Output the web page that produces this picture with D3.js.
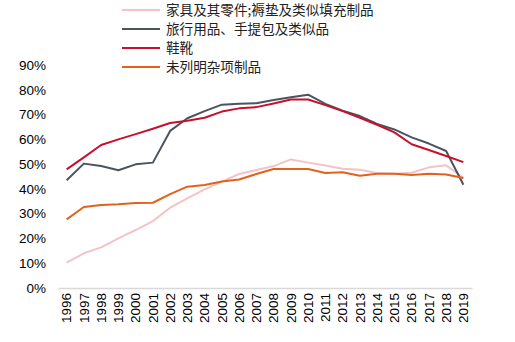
<!DOCTYPE html>
<html><head><meta charset="utf-8">
<script src="https://cdn.jsdelivr.net/npm/d3@7"></script>
<style>body{margin:0;background:#fff}svg{display:block}</style>
</head><body><svg id="c" width="515" height="342"></svg>
<script>
const years = ["1996","1997","1998","1999","2000","2001","2002","2003","2004","2005","2006","2007","2008","2009","2010","2011","2012","2013","2014","2015","2016","2017","2018","2019"];
const seriesNames = ["家具及其零件;褥垫及类似填充制品","旅行用品、手提包及类似品","鞋靴","未列明杂项制品"];
const furniture = [10.2,14.0,16.4,20.0,23.4,27.0,32.4,36.2,39.8,42.9,46.0,47.6,49.2,51.9,50.6,49.4,48.1,47.7,46.4,46.1,46.5,48.7,49.5,44.5];
const travel = [43.5,50.2,49.2,47.5,49.9,50.6,63.4,68.5,71.4,74.0,74.4,74.6,75.9,77.0,78.0,74.3,71.6,69.4,66.2,64.0,60.8,58.3,55.3,41.7];
const shoes = [47.9,52.7,57.7,60.0,62.1,64.3,66.6,67.5,68.7,71.2,72.5,73.0,74.5,76.1,76.1,73.8,71.4,68.7,65.9,62.8,58.0,55.7,53.3,50.8];
const misc = [27.7,32.7,33.5,33.8,34.3,34.4,37.9,40.9,41.6,43.0,43.8,46.0,48.0,48.0,48.0,46.4,46.7,45.3,46.1,46.1,45.6,46.1,45.8,44.4];
const yTicks = [0,10,20,30,40,50,60,70,80,90];
const colors = ["#F4C3C6","#4B545E","#C8102E","#E2621B"];
const allSeries = [furniture, travel, shoes, misc];

const svg = d3.select("#c");
const x = d3.scaleBand().domain(years).range([58,472]);
const y = d3.scaleLinear().domain([0,90]).range([288,65]);
const font = "'Liberation Sans', Arial, sans-serif";

// y axis labels
const ya = svg.append("g").attr("transform","translate(46,0)")
  .call(d3.axisLeft(y).tickValues(yTicks).tickFormat(d=>d+"%").tickSize(0).tickPadding(0));
ya.select(".domain").remove();
ya.selectAll("text").attr("font-family",font).attr("font-size",13.5).attr("fill","#000");

// x axis
const xa = svg.append("g").attr("transform","translate(0,288)")
  .call(d3.axisBottom(x).tickSize(0).tickPadding(0));
xa.select(".domain").attr("stroke","#d9d9d9").attr("stroke-width",1.5);
xa.selectAll("text").attr("font-family",font).attr("font-size",13.5).attr("fill","#000")
  .attr("text-anchor","end").attr("transform","rotate(-90)").attr("dx","-5px").attr("dy","0.35em").attr("y",0).attr("x",0);

const line = d3.line().x((d,i)=>x(years[i])+x.bandwidth()/2).y(d=>y(d));
allSeries.forEach((s,i)=>{
  svg.append("path").datum(s).attr("d",line).attr("fill","none")
    .attr("stroke",colors[i]).attr("stroke-width",2).attr("stroke-linejoin","round");
});

// legend
const lg = svg.append("g");
seriesNames.forEach((n,i)=>{
  const yy = 10 + i*19;
  lg.append("line").attr("x1",122).attr("x2",160).attr("y1",yy).attr("y2",yy)
    .attr("stroke",colors[i]).attr("stroke-width",2);
  lg.append("text").attr("x",166).attr("y",yy).attr("dy","0.36em")
    .attr("font-family","'Noto Sans CJK SC', sans-serif").attr("font-size",13.6)
    .attr("fill","#222").text(n);
});
</script></body></html>
